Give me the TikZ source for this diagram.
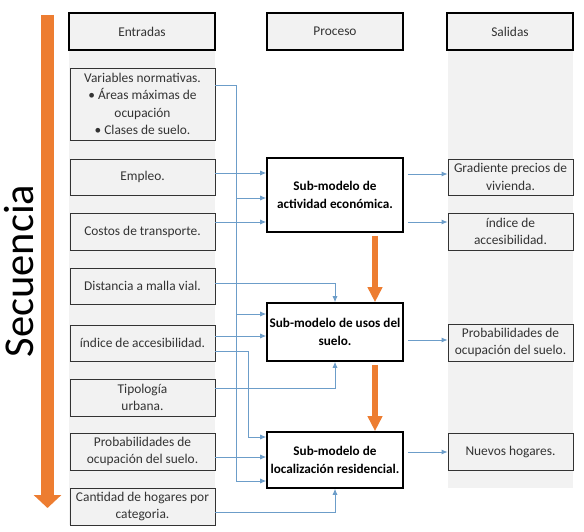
\documentclass[tikz,border=0pt]{standalone}
\usepackage{fontspec}
\setmainfont{Carlito}
\usetikzlibrary{arrows.meta}
\definecolor{naranja}{HTML}{ED7D31}
\definecolor{azul}{HTML}{6C9DC9}
\definecolor{gris}{HTML}{F2F2F2}
\definecolor{texto}{HTML}{333333}
\begin{document}
\begin{tikzpicture}[x=1pt, y=-1pt,
            titulo/.style={draw=black, line width=1.6pt, fill=gris, minimum height=37pt, inner sep=0pt, text=texto, font=\fontsize{13.4}{17.5}\selectfont},
            entrada/.style={draw=texto, line width=0.8pt, fill=gris, minimum width=145pt, inner sep=0pt, align=center, text=texto, font=\fontsize{13.4}{17.5}\selectfont},
            salida/.style={entrada, minimum width=125pt},
            proceso/.style={draw=black, line width=1.6pt, fill=white, minimum width=136pt, inner sep=0pt, align=center, font=\fontsize{13.2}{18}\selectfont\bfseries},
            flujo/.style={draw=azul, line width=0.8pt, -{Latex[length=6pt,width=5pt]}},
            paso/.style={draw=naranja, line width=6pt, -{Triangle[length=15pt,width=14pt]}}]
            \useasboundingbox (0,0) rectangle (584,532);
            \fill[gris] (69,50) rectangle (215,525);
            \fill[gris] (448,50) rectangle (573,488);
            \draw[naranja, line width=13pt, -{Triangle[length=13pt,width=27pt]}] (47.5,15) -- (47.5,508);
            \node[rotate=90, anchor=base, inner sep=0pt, font=\fontsize{42.5}{42.5}\selectfont] (sec) at (33,271) {Secuencia};
            \node[titulo, minimum width=146pt] (ent) at (142,31.5) {Entradas};
            \node[titulo, minimum width=136pt] (pro) at (335,31.5) {Proceso};
            \node[titulo, minimum width=126pt] (sal) at (510,31.5) {Salidas};
            \node[entrada, minimum height=72pt] (var) at (142.5,104) {Variables normativas.\\ • Áreas máximas de\\ ocupación\\ • Clases de suelo.};
            \node[entrada, minimum height=36pt] (emp) at (142.5,177) {Empleo.};
            \node[entrada, minimum height=37pt] (cos) at (142.5,231.5) {Costos de transporte.};
            \node[entrada, minimum height=36pt] (dis) at (142.5,286) {Distancia a malla vial.};
            \node[entrada, minimum height=36pt] (ind) at (142.5,343) {índice de accesibilidad.};
            \node[entrada, minimum height=37pt] (tip) at (142.5,397.5) {Tipología\\ urbana.};
            \node[entrada, minimum height=37pt] (prb) at (142.5,451.5) {Probabilidades de\\ ocupación del suelo.};
            \node[entrada, minimum height=37pt] (can) at (142.5,506.5) {Cantidad de hogares por\\ categoria.};
            \node[proceso, minimum height=74pt] (act) at (335,195) {Sub-modelo de\\ actividad económica.};
            \node[proceso, minimum height=58pt] (uso) at (335,332) {Sub-modelo de usos del\\ suelo.};
            \node[proceso, minimum height=56pt] (loc) at (335,460) {Sub-modelo de\\ localización residencial.};
            \node[salida, minimum height=36pt] (gra) at (510.5,177) {Gradiente precios de\\ vivienda.};
            \node[salida, minimum height=37pt] (acc) at (510.5,231.5) {índice de\\ accesibilidad.};
            \node[salida, minimum height=37pt] (ocu) at (510.5,342.5) {Probabilidades de\\ ocupación del suelo.};
            \node[salida, minimum height=37pt] (hog) at (510.5,451.5) {Nuevos hogares.};
            \coordinate (bus) at (236,85);
            \draw[flujo] (var.east |- bus) -- (bus) |- (loc.west |- 0,481);
            \draw[flujo] (bus |- 0,198) -- (act.west |- 0,198);
            \draw[flujo] (bus |- 0,314) -- (uso.west |- 0,314);
            \draw[flujo] (emp.east |- 0,173) -- (act.west |- 0,173);
            \draw[flujo] (cos.east |- 0,222) -- (act.west |- 0,222);
            \draw[flujo] (dis.east |- 0,283) -| (uso.north);
            \draw[flujo] (ind.east |- 0,336) -- (uso.west |- 0,336);
            \draw[flujo] (ind.east |- 0,351) -| (248,437) -- (loc.west |- 0,437);
            \draw[flujo] (tip.east |- 0,388) -| (uso.south);
            \draw[flujo] (prb.east |- 0,457) -- (loc.west |- 0,457);
            \draw[flujo] (can.east |- 0,512) -| (loc.south);
            \draw[flujo, shorten <=4pt] (act.east |- 0,174) -- (gra.west |- 0,174);
            \draw[flujo, shorten <=4pt] (act.east |- 0,222) -- (acc.west |- 0,222);
            \draw[flujo, shorten <=4pt] (uso.east |- 0,340) -- (ocu.west |- 0,340);
            \draw[flujo, shorten <=4pt] (loc.east |- 0,452) -- (hog.west |- 0,452);
            \draw[paso, shorten <=3pt] ([xshift=40pt]act.south) -- ([xshift=40pt]uso.north);
            \draw[paso, shorten <=3pt] ([xshift=40pt]uso.south) -- ([xshift=40pt]loc.north);
        \end{tikzpicture}
\end{document}
